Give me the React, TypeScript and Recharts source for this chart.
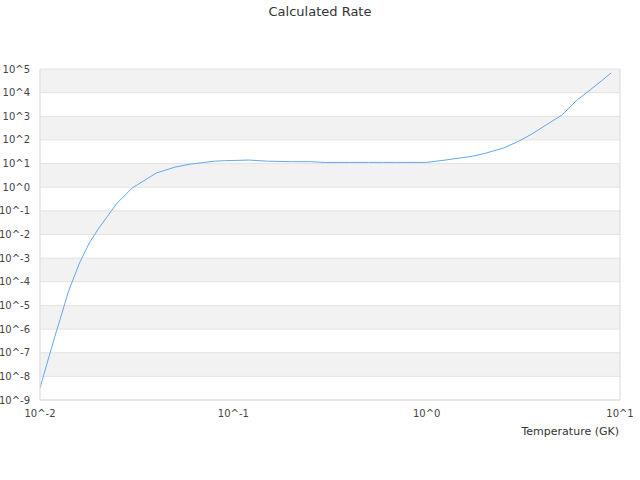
import { LineChart, Line, XAxis, YAxis, CartesianGrid, ReferenceLine, Label } from 'recharts';

// temperature grid (GK) and the rate read at each point
const temperatures = [
  0.01, 0.011, 0.012, 0.013, 0.014, 0.015, 0.016, 0.018, 0.02, 0.025, 0.03, 0.04, 0.05, 0.06, 0.07, 0.08,
  0.09, 0.1, 0.12, 0.15, 0.2, 0.25, 0.3, 0.4, 0.5, 0.6, 0.7, 0.8, 0.9, 1, 1.25, 1.5, 1.75, 2, 2.5, 3, 3.5,
  4, 5, 6, 7, 8, 9,
];
const rates = [
  3.2e-9, 4.9e-8, 5.6e-7, 4.8e-6, 3.7e-5, 1.6e-4, 6.2e-4, 4.4e-3, 1.7e-2, 0.21, 0.93, 4.0, 7.1, 9.5, 11.1, 12.6,
  13.2, 13.5, 14.1, 12.6, 12.0, 12.0, 11.1, 11.2, 11.2, 11.2, 11.2, 11.2, 11.2, 11.2, 14.1, 17.4, 20.9, 26.9, 45.7,
  89, 178, 355, 1120, 4900, 12900, 31000, 68000,
];

const xTicks = [0.01, 0.1, 1, 10];
const xTickLabels = ['10^-2', '10^-1', '10^0', '10^1'];
const yTicks = [1e-9, 1e-8, 1e-7, 1e-6, 1e-5, 1e-4, 1e-3, 1e-2, 1e-1, 1, 1e1, 1e2, 1e3, 1e4, 1e5];
const yTickLabels = [
  '10^-9', '10^-8', '10^-7', '10^-6', '10^-5', '10^-4', '10^-3', '10^-2', '10^-1', '10^0', '10^1', '10^2', '10^3', '10^4', '10^5',
];

const data = temperatures.map((t, i) => ({ t, rate: rates[i] }));

const FONT = '"DejaVu Sans", sans-serif';
const AXIS_COLOR = '#d9d9d9';

export default function App() {
  return (
    <div style={{ position: 'absolute', left: 0, top: 0, width: 640, height: 480, fontFamily: FONT }}>
      <div
        style={{
          position: 'absolute',
          top: 3,
          left: 0,
          width: 640,
          textAlign: 'center',
          fontSize: 13,
          lineHeight: '18px',
          color: '#333',
        }}
      >
        Calculated Rate
      </div>
      <LineChart width={640} height={480} data={data} margin={{ top: 69, right: 20, left: 0, bottom: 50 }}>
        <CartesianGrid vertical={false} stroke="#e3e3e3" horizontalFill={['#f2f2f2', '#ffffff']} />
        <XAxis
          dataKey="t"
          type="number"
          scale="log"
          domain={[0.01, 10]}
          ticks={xTicks}
          interval={0}
          allowDataOverflow
          height={30}
          tickLine={false}
          tickMargin={4}
          stroke={AXIS_COLOR}
          tick={{ fill: '#444', fontSize: 10, fontFamily: FONT }}
          tickFormatter={(v: number) => xTickLabels[xTicks.indexOf(v)] ?? String(v)}
        >
          <Label
            content={() => (
              <text x={619} y={435} textAnchor="end" fontSize={11} fill="#333" fontFamily={FONT}>
                Temperature (GK)
              </text>
            )}
          />
        </XAxis>
        <YAxis
          type="number"
          scale="log"
          domain={[1e-9, 1e5]}
          ticks={yTicks}
          interval={0}
          allowDataOverflow
          width={40}
          tickLine={false}
          tickMargin={4}
          stroke={AXIS_COLOR}
          tick={{ fill: '#444', fontSize: 10, fontFamily: FONT }}
          tickFormatter={(v: number) => yTickLabels[yTicks.indexOf(v)] ?? String(v)}
        />
        <ReferenceLine x={10} stroke={AXIS_COLOR} />
        <Line
          type="linear"
          dataKey="rate"
          stroke="#62a8f3"
          strokeWidth={1}
          dot={false}
          isAnimationActive={false}
        />
      </LineChart>
    </div>
  );
}
